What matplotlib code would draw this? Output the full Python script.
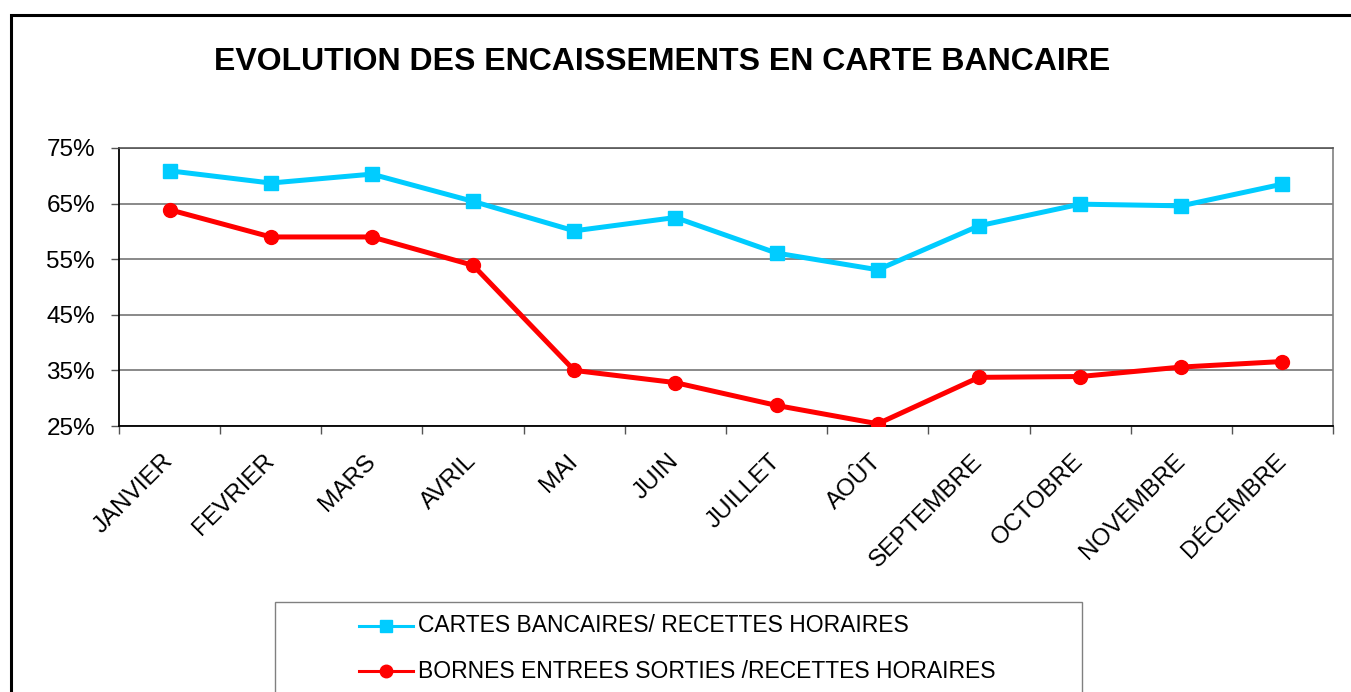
import matplotlib
matplotlib.use("Agg")
import matplotlib.pyplot as plt
from matplotlib.lines import Line2D
from matplotlib.patches import Rectangle
from matplotlib.ticker import FuncFormatter, FixedLocator

plt.rcParams['font.family'] = ['Liberation Sans', 'DejaVu Sans']

mois = ['JANVIER', 'FEVRIER', 'MARS', 'AVRIL', 'MAI', 'JUIN', 'JUILLET',
        'AOÛT', 'SEPTEMBRE', 'OCTOBRE', 'NOVEMBRE', 'DÉCEMBRE']
cartes_bancaires = [70.9, 68.7, 70.3, 65.4, 60.1, 62.5, 56.1, 53.1, 61.0, 64.9, 64.6, 68.5]
bornes_es = [63.9, 59.0, 59.0, 53.9, 35.0, 32.8, 28.7, 25.4, 33.75, 33.9, 35.6, 36.6]
y_ticks = [25, 35, 45, 55, 65, 75]

label_cb = 'CARTES BANCAIRES/ RECETTES HORAIRES'
label_bo = 'BORNES ENTREES SORTIES /RECETTES HORAIRES'
BLUE = '#00CCFF'
RED = '#FF0000'

W, H = 1351, 692
fig = plt.figure(figsize=(W / 100, H / 100), dpi=100)
fig.patch.set_facecolor('white')


def fx(px):
    return px / W


def fy(py):
    return 1 - py / H


ax = fig.add_axes([fx(119), fy(426), fx(1333) - fx(119), fy(148) - fy(426)])

x = list(range(len(mois)))
ax.plot(x, cartes_bancaires, color=BLUE, lw=3.6, marker='s', ms=10, zorder=3)
ax.plot(x, bornes_es, color=RED, lw=3.6, marker='o', ms=10, zorder=3)

ax.set_xlim(-0.5, len(mois) - 0.5)
ax.set_ylim(25, 75)
ax.set_yticks(y_ticks)
ax.yaxis.set_major_formatter(FuncFormatter(lambda v, p: f'{v:.0f}%'))
ax.grid(axis='y', color='#808080', lw=1.3)
ax.set_axisbelow(True)

ax.set_xticks(x)
ax.set_xticklabels(mois, rotation=45, ha='right', va='center', rotation_mode='anchor')
ax.xaxis.set_minor_locator(FixedLocator([i - 0.5 for i in range(len(mois) + 1)]))
ax.tick_params(axis='x', which='major', length=0, pad=23, labelsize=17.5)
ax.tick_params(axis='x', which='minor', length=5.8, width=1, color='#555555')
ax.tick_params(axis='y', length=5.8, width=1, color='#555555', pad=11.5, labelsize=17.5)

for side in ['left', 'bottom']:
    ax.spines[side].set_color('black')
    ax.spines[side].set_linewidth(1.3)
ax.spines['top'].set_color('#555555')
ax.spines['right'].set_color('#808080')
ax.spines['top'].set_linewidth(1.2)
ax.spines['right'].set_linewidth(1.2)

fig.text(fx(662), fy(62), 'EVOLUTION DES ENCAISSEMENTS EN CARTE BANCAIRE',
         ha='center', va='center', fontsize=23, fontweight='bold')

# cadre du graphique
fig.add_artist(Rectangle((fx(11), -0.1), 1.2, fy(15) + 0.1, transform=fig.transFigure,
                         fill=False, edgecolor='black', lw=2.2, clip_on=False))

# legende
fig.add_artist(Rectangle((fx(275), -0.1), fx(1082) - fx(275), fy(602) + 0.1,
                         transform=fig.transFigure, fill=False, edgecolor='#808080',
                         lw=1.0, clip_on=False))
for yy, col, mk, lab in [(626, BLUE, 's', label_cb), (671, RED, 'o', label_bo)]:
    fig.add_artist(Line2D([fx(359), fx(413)], [fy(yy), fy(yy)], transform=fig.transFigure,
                          color=col, lw=2.2))
    fig.add_artist(Line2D([fx(386)], [fy(yy)], transform=fig.transFigure,
                          color=col, marker=mk, ms=9, lw=0))
    fig.text(fx(418), fy(yy), lab, ha='left', va='center', fontsize=16.5)

fig.savefig('out.png', dpi=100)
